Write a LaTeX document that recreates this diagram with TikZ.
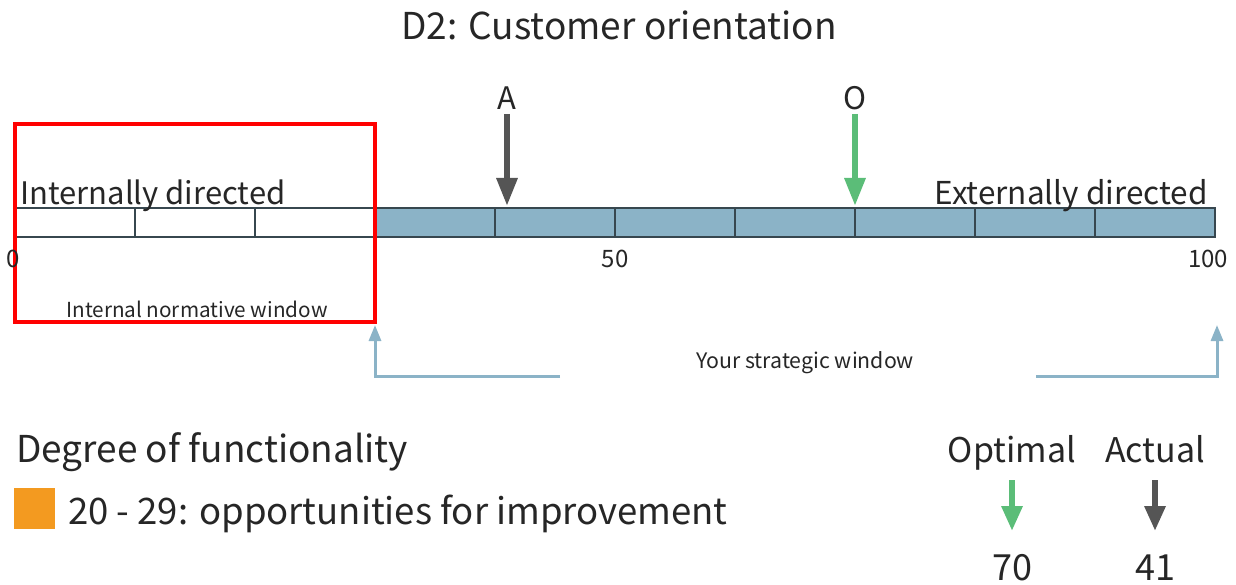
\documentclass[tikz,border=0pt]{standalone}
\usepackage{fontspec}
\setmainfont{Noto Sans CJK JP}
\usepackage{tikz}
\usetikzlibrary{arrows.meta, positioning}
\definecolor{barblue}{HTML}{8BB3C7}
\definecolor{bardark}{HTML}{37474F}
\definecolor{optgreen}{HTML}{5BBD78}
\definecolor{actgray}{HTML}{555555}
\definecolor{legorange}{HTML}{F39A20}
\newcommand{\fsz}[1]{\fontsize{#1}{#1}\selectfont}

\begin{document}
\begin{tikzpicture}[x=1pt, y=-1pt,
    segment/.style={draw=bardark, line width=2pt},
    marker/.style={line width=6pt, -{Triangle[width=20pt, length=28pt]}},
    window/.style={draw=barblue, line width=3pt, -{Triangle[width=12pt, length=16pt]}},
    txt/.style={inner sep=0pt, text=black!85, anchor=base}]
    \useasboundingbox (0,0) rectangle (1236,585);

    % Title
    \node[txt, font=\fsz{37}] (title) at (619,40) {D2: Customer orientation};

    % Scale bar
    \foreach \i in {0,1,2}
        \filldraw[segment, fill=white] ({15+120*\i},208) rectangle ++(120,29);
    \foreach \i in {3,...,9}
        \filldraw[segment, fill=barblue] ({15+120*\i},208) rectangle ++(120,29);
    \node[txt, font=\fsz{31}, anchor=base west] (intdir) at (20,205) {Internally directed};
    \node[txt, font=\fsz{31.5}, anchor=base east] (extdir) at (1208,205) {Externally directed};

    % Internal normative window
    \draw[red, line width=4pt] (15,124) rectangle (375,322);
    \node[txt, font=\fsz{20.7}] (normwin) at (197,317) {Internal normative window};
    \node[txt, font=\fsz{24}] (zero) at (13,267) {0};
    \node[txt, font=\fsz{24}] (fifty) at (615,267) {50};
    \node[txt, font=\fsz{24}] (hundred) at (1208,267) {100};

    % Actual and optimal markers
    \node[txt, font=\fsz{31}] (A) at (507,110) {A};
    \node[txt, font=\fsz{31}] (O) at (855,110) {O};
    \coordinate (Atop) at (507,114);
    \coordinate (Atip) at (507,206);
    \coordinate (Otop) at (855,114);
    \coordinate (Otip) at (855,206);
    \draw[marker, actgray] (Atop) -- (Atip);
    \draw[marker, optgreen] (Otop) -- (Otip);

    % Strategic window
    \node[txt, font=\fsz{21.3}] (stratwin) at (805,368) {Your strategic window};
    \coordinate (swL) at (560,376);
    \coordinate (swR) at (1036,376);
    \coordinate (swLtip) at (375,325);
    \coordinate (swRtip) at (1217,325);
    \draw[window] (swL) -| (swLtip);
    \draw[window] (swR) -| (swRtip);

    % Legend
    \node[txt, font=\fsz{37}, anchor=base west] (degree) at (16,462) {Degree of functionality};
    \filldraw[legorange] (14,488) rectangle (54,528);
    \node[txt, font=\fsz{36.5}, anchor=base west] (range) at (68,524) {20 - 29: opportunities for improvement};

    \node[txt, font=\fsz{34}] (optimal) at (1012,462) {Optimal};
    \node[txt, font=\fsz{34}] (actual) at (1155,462) {Actual};
    \node[txt, font=\fsz{36}] (optval) at (1012,580) {70};
    \node[txt, font=\fsz{36}] (actval) at (1155,580) {41};
    \coordinate (optT) at (1012,480);
    \coordinate (optB) at (1012,531);
    \coordinate (actT) at (1155,480);
    \coordinate (actB) at (1155,531);
    \draw[marker, optgreen, -{Triangle[width=20pt, length=25pt]}] (optT) -- (optB);
    \draw[marker, actgray, -{Triangle[width=20pt, length=25pt]}] (actT) -- (actB);
\end{tikzpicture}
\end{document}
